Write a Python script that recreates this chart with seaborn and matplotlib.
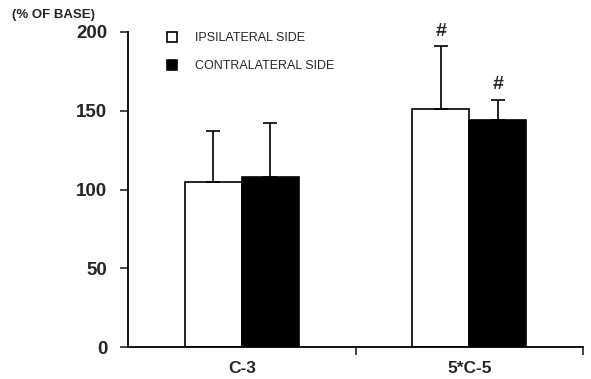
import numpy as np
import pandas as pd
import seaborn as sns
import matplotlib.pyplot as plt

# data
groups = ['C-3', '5*C-5']
sides = ['IPSILATERAL SIDE', 'CONTRALATERAL SIDE']
ipsi_mean = [105, 151]
contra_mean = [108, 144]
ipsi_err = [32, 40]
contra_err = [34, 13]
signif = [['', '#'], ['', '#']]   # per side, per group

df = pd.DataFrame({
    'group': groups * 2,
    'side': [sides[0]] * 2 + [sides[1]] * 2,
    'value': ipsi_mean + contra_mean,
})

sns.set_style('white')
plt.rcParams['font.family'] = ['Liberation Sans', 'DejaVu Sans']

fig = plt.figure(figsize=(5.91, 3.79), dpi=100)
ax = fig.add_axes([0.2166, 0.0844, 0.77, 0.8312])

sns.barplot(data=df, x='group', y='value', hue='side', order=groups,
            hue_order=sides, palette=['white', 'black'], errorbar=None,
            width=0.5, edgecolor='black', linewidth=1.2, ax=ax)

# one-sided error bars and significance marks
errs = [ipsi_err, contra_err]
means = [ipsi_mean, contra_mean]
bar_conts = list(ax.containers)
for i, cont in enumerate(bar_conts):
    xs = [b.get_x() + b.get_width() / 2 for b in cont.patches]
    ax.errorbar(xs, means[i], yerr=[np.zeros(len(xs)), errs[i]], fmt='none',
                ecolor='black', elinewidth=1.2, capsize=5, capthick=1.2)
    for x, m, e, s in zip(xs, means[i], errs[i], signif[i]):
        if s:
            ax.text(x, m + e + 4, s, ha='center', va='bottom',
                    fontsize=14, fontweight='bold')

ax.set_xlim(-0.5, 1.5)
ax.set_ylim(0, 200)
ax.set_yticks([0, 50, 100, 150, 200])
ax.set_xticks([0, 1])
ax.set_xticklabels(groups, fontsize=12.5, fontweight='bold')
ax.set_xticks([0.5, 1.5], minor=True)
ax.tick_params(axis='x', which='major', length=0, pad=10)
ax.tick_params(axis='x', which='minor', length=6, width=1.2, direction='out',
               bottom=True)
ax.tick_params(axis='y', length=6, width=1.2, direction='out', left=True,
               labelsize=13.5, pad=9)
for lab in ax.get_yticklabels():
    lab.set_fontweight('bold')
ax.set_xlabel('')
ax.set_ylabel('')
sns.despine(ax=ax)
for sp in ['left', 'bottom']:
    ax.spines[sp].set_color('black')
    ax.spines[sp].set_linewidth(1.3)

fig.text(0.02, 0.975, '(% OF BASE)', fontsize=9.5, fontweight='bold',
         va='top', ha='left')

leg = ax.legend(loc='upper left', bbox_to_anchor=(0.062, 1.035), frameon=False,
                fontsize=9, handlelength=0.8, handleheight=0.8,
                labelspacing=1.25, handletextpad=1.4)

fig.savefig('out.png', dpi=100)
